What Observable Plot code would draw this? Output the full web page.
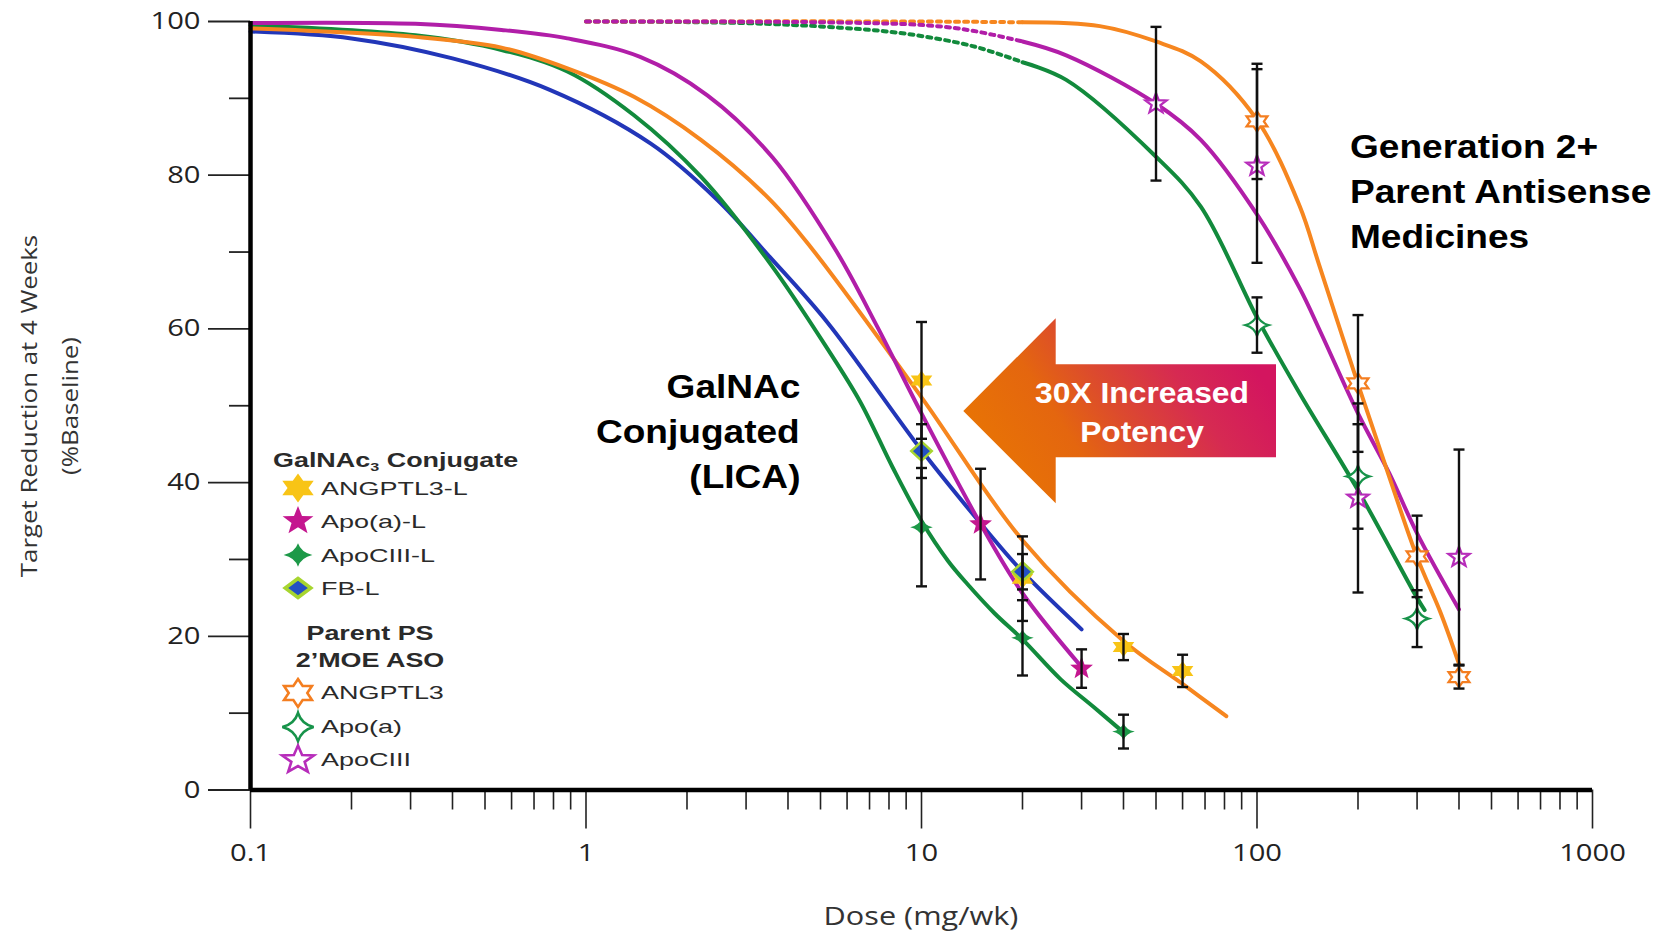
<!DOCTYPE html>
<html><head><meta charset="utf-8">
<script src="https://cdn.jsdelivr.net/npm/d3@7"></script>
<script src="https://cdn.jsdelivr.net/npm/@observablehq/plot@0.6"></script>
<style>
html,body{margin:0;padding:0;background:#fff;overflow:hidden;}
#wrap{position:relative;width:1655px;height:931px;background:#fff;}
#wrap > svg{position:absolute;left:0;top:0;}
.t{position:absolute;white-space:nowrap;font-family:"Liberation Sans",Arial,sans-serif;}
.s{display:inline-block;}
</style></head><body><div id="wrap"></div>
<script>
// ---------------- axis ticks ----------------
const xMajorTicks = [0.1, 1, 10, 100, 1000];
const xMinorTicks = [0.2,0.3,0.4,0.5,0.6,0.7,0.8,0.9, 2,3,4,5,6,7,8,9, 20,30,40,50,60,70,80,90, 200,300,400,500,600,700,800,900];
const yMajorTicks = [0, 20, 40, 60, 80, 100];
const yMinorTicks = [10, 30, 50, 70, 90];

// ---------------- GalNAc3 conjugate fitted curves (dose mg/wk, % baseline) ----------------
const cDose_ANGPTL3L = [0.1, 0.31, 0.56, 0.88, 1.39, 2.2, 3.54, 4.76, 10, 20, 40, 60, 81];
const cVal_ANGPTL3L  = [99.1, 98.0, 96.6, 93.9, 90.2, 84.6, 76.8, 70.2, 51.1, 32.5, 19.4, 13.8, 9.6];
const cDose_ApoaL = [0.1, 0.31, 0.56, 0.88, 1.45, 2.3, 3.6, 5.56, 7.4, 10, 15, 20, 30];
const cVal_ApoaL  = [99.8, 99.7, 98.9, 97.8, 95.4, 90.4, 82.3, 70.2, 60.2, 49.0, 34.6, 25.6, 16.0];
const cDose_ApoCIIIL = [0.1, 0.31, 0.56, 0.88, 1.39, 2.2, 3.54, 5.23, 6.57, 8.2, 10, 12, 13.7, 16.5, 20, 26, 32.6, 40];
const cVal_ApoCIIIL  = [99.5, 98.2, 96.3, 93.5, 87.8, 79.8, 68.5, 57.5, 50.5, 42.0, 35.0, 29.8, 26.8, 23.0, 19.6, 14.4, 10.8, 7.5];
const cDose_FBL = [0.1, 0.2, 0.4, 0.78, 1.56, 2.46, 3.54, 5.23, 10, 15, 20, 30];
const cVal_FBL  = [98.7, 97.8, 95.2, 91.1, 84.1, 76.8, 69.3, 60.9, 44.2, 34.7, 28.4, 20.9];

// ---------------- Parent PS 2'MOE ASO fitted curves (dotted low-dose part + solid part) ----------------
const pDotDose_ANGPTL3 = [1, 10, 20];
const pDotVal_ANGPTL3  = [100, 100, 99.9];
const pDose_ANGPTL3 = [20, 34, 50, 68, 100, 134, 153, 200, 248, 300, 353, 400];
const pVal_ANGPTL3  = [99.9, 99.4, 97.4, 94.8, 87.2, 76.0, 68.4, 52.8, 40.7, 30.3, 23.0, 16.4];
const pDotDose_Apoa = [1, 2.9, 5.7, 9, 14.2, 20];
const pDotVal_Apoa  = [100, 99.8, 99.2, 98.4, 96.8, 94.7];
const pDose_Apoa = [20, 27, 50, 68, 101, 134.5, 200, 300, 316];
const pVal_Apoa  = [94.7, 92.4, 82.4, 75.9, 61.1, 51.5, 39.0, 25.0, 23.4];
const pDotDose_ApoCIII = [1, 5, 10.4, 14.2, 20];
const pDotVal_ApoCIII  = [100, 99.9, 99.5, 98.8, 97.4];
const pDose_ApoCIII = [20, 27, 50, 68, 101, 134, 155, 200, 248, 300, 400];
const pVal_ApoCIII  = [97.4, 95.6, 89.3, 84.6, 74.6, 65.3, 59.5, 49.0, 41.2, 33.4, 23.5];

// ---------------- measured points (mean, ± error) ----------------
const ptDose_ANGPTL3L = [10, 20, 40, 60];
const ptVal_ANGPTL3L  = [53.3, 27.5, 18.6, 15.5];
const ptErr_ANGPTL3L  = [7.6, 5.5, 1.7, 2.1];
const ptDose_ApoaL = [15, 30];
const ptVal_ApoaL  = [34.6, 15.8];
const ptErr_ApoaL  = [7.2, 2.5];
const ptDose_ApoCIIIL = [10, 20, 40];
const ptVal_ApoCIIIL  = [34.2, 19.8, 7.6];
const ptErr_ApoCIIIL  = [7.7, 4.9, 2.2];
const ptDose_FBL = [10, 20];
const ptVal_FBL  = [44.1, 28.4];
const ptErr_FBL  = [3.5, 2.3];
const ptDose_ANGPTL3 = [100, 200, 300, 400];
const ptVal_ANGPTL3  = [87.0, 52.9, 30.4, 14.7];
const ptErr_ANGPTL3  = [7.5, 8.9, 5.3, 1.5];
const ptDose_Apoa = [100, 200, 300];
const ptVal_Apoa  = [60.5, 40.8, 22.3];
const ptErr_Apoa  = [3.6, 6.8, 3.7];
const ptDose_ApoCIII = [50, 100, 200, 400];
const ptVal_ApoCIII  = [89.3, 81.2, 38.0, 30.3];
const ptErr_ApoCIII  = [10.0, 12.6, 12.3, 14.0];

// ---------------- texts ----------------
const legendHeader1 = "GalNAc<sub style='font-size:60%;vertical-align:-0.3em;line-height:0'>3</sub> Conjugate";
const legendLabels1 = ["ANGPTL3-L", "Apo(a)-L", "ApoCIII-L", "FB-L"];
const legendHeader2 = ["Parent PS", "2’MOE ASO"];
const legendLabels2 = ["ANGPTL3", "Apo(a)", "ApoCIII"];
const annLeft = ["GalNAc", "Conjugated", "(LICA)"];
const annRight = ["Generation 2+", "Parent Antisense", "Medicines"];
const arrowText = ["30X Increased", "Potency"];
const yLabel = ["Target Reduction at 4 Weeks", "(%Baseline)"];
const xLabel = "Dose (mg/wk)";

// ---------------- styles ----------------
const C = {
  blue: "#2236b8", green: "#128a3c", orange: "#f6861f", magenta: "#b11ea8",
  yellow: "#f8c416", magentaStar: "#c4168f", greenFill: "#1d9948",
  fbFill: "#2450c4", fbStroke: "#a7d52f",
  openOrange: "#f47e20", openGreen: "#17934a", openMagenta: "#b72cba"
};

// custom marker shapes
function hexagram(ax) { return {draw(c, size) { const R = Math.sqrt(size/Math.PI), ri = R/Math.sqrt(3);
  for (let k = 0; k < 12; k++) { const a = -Math.PI/2 + k*Math.PI/6, r = k % 2 ? ri : R;
    const x = r*Math.cos(a)*ax, y = r*Math.sin(a); k ? c.lineTo(x, y) : c.moveTo(x, y); } c.closePath(); }}; }
function star5(ax) { return {draw(c, size) { const R = Math.sqrt(size/Math.PI), ri = R*0.42;
  for (let k = 0; k < 10; k++) { const a = -Math.PI/2 + k*Math.PI/5, r = k % 2 ? ri : R;
    const x = r*Math.cos(a)*ax, y = r*Math.sin(a); k ? c.lineTo(x, y) : c.moveTo(x, y); } c.closePath(); }}; }
function star4(ax) { return {draw(c, size) { const R = Math.sqrt(size/Math.PI), q = R*0.22;
  c.moveTo(0, -R); c.quadraticCurveTo(q*ax, -q, R*ax, 0); c.quadraticCurveTo(q*ax, q, 0, R);
  c.quadraticCurveTo(-q*ax, q, -R*ax, 0); c.quadraticCurveTo(-q*ax, -q, 0, -R); c.closePath(); }}; }
function diamond(ax) { return {draw(c, size) { const R = Math.sqrt(size/Math.PI);
  c.moveTo(0, -R); c.lineTo(R*ax, 0); c.lineTo(0, R); c.lineTo(-R*ax, 0); c.closePath(); }}; }
const capSym = {draw(c) { c.moveTo(-5.5, 0); c.lineTo(5.5, 0); }};

const zip = (ds, vs) => ds.map((d, i) => ({d, v: vs[i]}));
const zipErr = (ds, vs, es) => ds.map((d, i) => ({d, v: vs[i], lo: vs[i] - es[i], hi: vs[i] + es[i]}));

const errAll = [
  ...zipErr(ptDose_ANGPTL3L, ptVal_ANGPTL3L, ptErr_ANGPTL3L),
  ...zipErr(ptDose_ApoaL, ptVal_ApoaL, ptErr_ApoaL),
  ...zipErr(ptDose_ApoCIIIL, ptVal_ApoCIIIL, ptErr_ApoCIIIL),
  ...zipErr(ptDose_FBL, ptVal_FBL, ptErr_FBL),
  ...zipErr(ptDose_ANGPTL3, ptVal_ANGPTL3, ptErr_ANGPTL3),
  ...zipErr(ptDose_Apoa, ptVal_Apoa, ptErr_Apoa),
  ...zipErr(ptDose_ApoCIII, ptVal_ApoCIII, ptErr_ApoCIII)
];

const lineOpts = (stroke, dash) => ({x: "d", y: "v", stroke, strokeWidth: 4, curve: "catmull-rom", strokeDasharray: dash});
const dotOpts = (symbol, r, fill, stroke, sw) => ({x: "d", y: "v", symbol, r, fill, stroke, strokeWidth: sw});

const svg = Plot.plot({
  width: 1655, height: 931,
  marginLeft: 250, marginRight: 63, marginTop: 21, marginBottom: 141.5,
  x: {type: "log", domain: [0.1, 1000]},
  y: {domain: [0, 100]},
  style: {fontFamily: "'Open Sans', sans-serif", fontSize: "23.5px", background: "#fff", color: "#222"},
  marks: [
    // conjugate curves
    Plot.line(zip(cDose_FBL, cVal_FBL), lineOpts(C.blue)),
    Plot.line(zip(cDose_ApoCIIIL, cVal_ApoCIIIL), lineOpts(C.green)),
    Plot.line(zip(cDose_ANGPTL3L, cVal_ANGPTL3L), lineOpts(C.orange)),
    Plot.line(zip(cDose_ApoaL, cVal_ApoaL), lineOpts(C.magenta)),
    // parent curves
    Plot.line(zip(pDotDose_Apoa, pDotVal_Apoa), lineOpts(C.green, "4,5")),
    Plot.line(zip(pDotDose_ANGPTL3, pDotVal_ANGPTL3), lineOpts(C.orange, "4,5")),
    Plot.line(zip(pDotDose_ApoCIII, pDotVal_ApoCIII), lineOpts(C.magenta, "4,5")),
    Plot.line(zip(pDose_Apoa, pVal_Apoa), lineOpts(C.green)),
    Plot.line(zip(pDose_ApoCIII, pVal_ApoCIII), lineOpts(C.magenta)),
    Plot.line(zip(pDose_ANGPTL3, pVal_ANGPTL3), lineOpts(C.orange)),
    // markers
    Plot.dot(zip(ptDose_ANGPTL3L, ptVal_ANGPTL3L), dotOpts(hexagram(1.25), 10, C.yellow, "none", 0)),
    Plot.dot(zip(ptDose_ApoCIIIL, ptVal_ApoCIIIL), dotOpts(star4(1.3), 8.7, C.greenFill, "none", 0)),
    Plot.dot(zip(ptDose_FBL, ptVal_FBL), dotOpts(diamond(1.08), 9.5, C.fbFill, C.fbStroke, 2.5)),
    Plot.dot(zip(ptDose_ApoaL, ptVal_ApoaL), dotOpts(star5(1), 12, C.magentaStar, "none", 0)),
    Plot.dot(zip(ptDose_ANGPTL3, ptVal_ANGPTL3), dotOpts(hexagram(1.2), 10, "white", C.openOrange, 2.3)),
    Plot.dot(zip(ptDose_Apoa, ptVal_Apoa), dotOpts(star4(1.05), 10.8, "white", C.openGreen, 2.3)),
    Plot.dot(zip(ptDose_ApoCIII, ptVal_ApoCIII), dotOpts(star5(1.05), 10.5, "white", C.openMagenta, 2.3)),
    // error bars
    Plot.ruleX(errAll, {x: "d", y1: "lo", y2: "hi", stroke: "#111", strokeWidth: 2.4}),
    Plot.dot(errAll, {x: "d", y: "lo", symbol: capSym, r: 5, fill: "none", stroke: "#111", strokeWidth: 2.4}),
    Plot.dot(errAll, {x: "d", y: "hi", symbol: capSym, r: 5, fill: "none", stroke: "#111", strokeWidth: 2.4}),
    // axes
    Plot.axisY(yMajorTicks, {tickSize: 42, tickPadding: 8, label: null, stroke: "#222", strokeWidth: 1.8, fill: "#222", tickFormat: d => String(d)}),
    Plot.axisY(yMinorTicks, {tickSize: 21, label: null, stroke: "#222", strokeWidth: 1.8, tickFormat: () => ""}),
    Plot.axisX(xMajorTicks, {tickSize: 39, tickPadding: 15, label: null, stroke: "#222", strokeWidth: 1.6, fill: "#222", tickFormat: d => String(d)}),
    Plot.axisX(xMinorTicks, {tickSize: 20, label: null, stroke: "#222", strokeWidth: 1.6, tickFormat: () => ""}),
    Plot.ruleY([0], {stroke: "#000", strokeWidth: 4.5}),
    Plot.ruleX([0.1], {stroke: "#000", strokeWidth: 4.5})
  ]
});

// widen tick labels horizontally like the reference
svg.querySelectorAll("text").forEach(t => {
  const tr = t.getAttribute("transform");
  if (tr) t.setAttribute("transform", tr + " scale(1.24,1)");
  else {
    const x = +(t.getAttribute("x") || 0), y = +(t.getAttribute("y") || 0);
    t.removeAttribute("x"); t.removeAttribute("y");
    t.setAttribute("transform", `translate(${x},${y}) scale(1.24,1)`);
  }
});

const wrap = document.getElementById("wrap");
wrap.appendChild(svg);

// ---------------- arrow annotation ----------------
const NS = "http://www.w3.org/2000/svg";
const ov = document.createElementNS(NS, "svg");
ov.setAttribute("width", 1655); ov.setAttribute("height", 931);
ov.style.position = "absolute"; ov.style.left = "0"; ov.style.top = "0";
ov.innerHTML = `<defs><linearGradient id="ag" gradientUnits="userSpaceOnUse" x1="1000" y1="480" x2="1230" y2="330">
<stop offset="0" stop-color="#e87404"/><stop offset="0.3" stop-color="#e4660f"/><stop offset="0.5" stop-color="#dc4a2e"/>
<stop offset="0.75" stop-color="#d62a52"/><stop offset="1" stop-color="#d3155f"/></linearGradient></defs>
<polygon fill="url(#ag)" points="963.3,411 1055.7,318.3 1055.7,364.3 1276,364.3 1276,457.3 1055.7,457.3 1055.7,503.3"/>`;
wrap.appendChild(ov);

// ---------------- text helpers ----------------
function addText(txt, o) {
  const L = Math.round(o.size * 1.3);
  const d = document.createElement("div"); d.className = "t";
  d.style.top = (o.cy - L/2) + "px"; d.style.lineHeight = L + "px"; d.style.height = L + "px";
  d.style.fontSize = o.size + "px"; d.style.fontWeight = o.weight || "normal"; d.style.color = o.color || "#000";
  if (o.family) d.style.fontFamily = o.family;
  const s = document.createElement("span"); s.className = "s"; s.innerHTML = txt;
  s.style.transform = `scaleX(${o.sx || 1})`;
  const a = o.anchor || "start";
  if (a === "start") { d.style.left = o.x + "px"; s.style.transformOrigin = "left center"; }
  else if (a === "end") { d.style.right = (1655 - o.x) + "px"; d.style.textAlign = "right"; s.style.transformOrigin = "right center"; }
  else { d.style.left = o.x + "px"; d.style.transform = "translateX(-50%)"; s.style.transformOrigin = "center center"; }
  d.appendChild(s); wrap.appendChild(d);
}
function addRot(txt, cx, cy, size, sx) {
  const d = document.createElement("div"); d.className = "t";
  d.style.fontFamily = "'Open Sans', sans-serif"; d.style.fontSize = size + "px"; d.style.lineHeight = size + "px";
  d.style.color = "#333"; d.textContent = txt; d.style.left = cx + "px"; d.style.top = cy + "px";
  d.style.transform = `translate(-50%,-50%) rotate(-90deg) scaleX(${sx})`;
  wrap.appendChild(d);
}
function addMarker(cx, cy, sym, R, fill, stroke, sw) {
  const s = document.createElementNS(NS, "svg");
  s.setAttribute("width", 50); s.setAttribute("height", 50);
  s.style.position = "absolute"; s.style.left = (cx - 25) + "px"; s.style.top = (cy - 25) + "px"; s.style.overflow = "visible";
  const p = d3.path(); sym.draw(p, Math.PI * R * R);
  const path = document.createElementNS(NS, "path");
  path.setAttribute("d", p.toString()); path.setAttribute("transform", "translate(25,25)");
  path.setAttribute("fill", fill); path.setAttribute("stroke", stroke); path.setAttribute("stroke-width", sw);
  s.appendChild(path); wrap.appendChild(s);
}

// annotations
const bold = {weight: "bold", size: 32.5, sx: 1.14};
annLeft.forEach((t, i) => addText(t, {...bold, x: 800, cy: 386.5 + i*45.2, anchor: "end"}));
annRight.forEach((t, i) => addText(t, {...bold, x: 1349.5, cy: 146.7 + i*45, anchor: "start"}));
arrowText.forEach((t, i) => addText(t, {weight: "bold", size: 30, sx: 1.06, color: "#fff", x: 1142, cy: 392.5 + i*39.2, anchor: "middle"}));

// axis titles
addRot(yLabel[0], 29, 406, 21, 1.23);
addRot(yLabel[1], 70, 406, 21, 1.23);
addText(xLabel, {size: 26, sx: 1.18, color: "#333", family: "'Open Sans', sans-serif", x: 921, cy: 915, anchor: "middle"});

// legend
addText(legendHeader1, {weight: "bold", size: 19.5, sx: 1.38, color: "#2a2a2a", x: 273.3, cy: 460.7});
const leg1Y = [489, 522, 556.3, 589];
const leg1Sym = [
  [hexagram(1.25), 14.5, C.yellow, "none", 0],
  [star5(1.08), 15, C.magentaStar, "none", 0],
  [star4(1.23), 11.7, C.greenFill, "none", 0],
  [diamond(1.35), 9.5, C.fbFill, C.fbStroke, 3.5]
];
legendLabels1.forEach((t, i) => {
  addMarker(298.3, leg1Y[i] - 1.5, ...leg1Sym[i]);
  addText(t, {size: 18.6, sx: 1.45, color: "#2a2a2a", x: 320.5, cy: leg1Y[i]});
});
legendHeader2.forEach((t, i) => addText(t, {weight: "bold", size: 19.5, sx: 1.38, color: "#2a2a2a", x: 369.6, cy: 633.7 + i*26.5, anchor: "middle"}));
const leg2Y = [693.3, 727, 760];
const leg2Sym = [
  [hexagram(1.15), 14, "white", C.openOrange, 2.6],
  [star4(1.1), 14.2, "white", C.openGreen, 2.6],
  [star5(1.15), 14.5, "white", C.openMagenta, 2.6]
];
legendLabels2.forEach((t, i) => {
  addMarker(298.3, leg2Y[i], ...leg2Sym[i]);
  addText(t, {size: 18.6, sx: 1.45, color: "#2a2a2a", x: 320.5, cy: leg2Y[i]});
});
</script></body></html>
